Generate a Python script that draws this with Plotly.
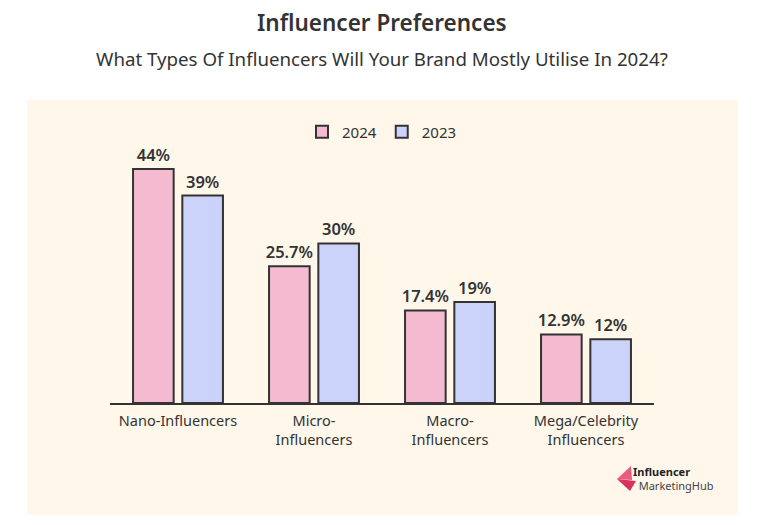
import plotly.graph_objects as go

categories = ["Nano-Influencers", "Micro-<br>Influencers", "Macro-<br>Influencers", "Mega/Celebrity<br>Influencers"]
values_2024 = [44, 25.7, 17.4, 12.9]
values_2023 = [39, 30, 19, 12]
labels_2024 = ["44%", "25.7%", "17.4%", "12.9%"]
labels_2023 = ["39%", "30%", "19%", "12%"]

FONT = "Noto Sans"
DARK = "#333333"


def px(x):
    return (x - 110) / 544


def py(y):
    return -(y - 403) / 253


fig = go.Figure()
fig.add_trace(go.Bar(
    name="2024", x=categories, y=values_2024, text=labels_2024,
    textposition="outside", cliponaxis=False, constraintext="none",
    marker=dict(color="#F4BBD0", line=dict(color=DARK, width=2)),
    textfont=dict(family=FONT, size=16.5, color=DARK, weight=600),
))
fig.add_trace(go.Bar(
    name="2023", x=categories, y=values_2023, text=labels_2023,
    textposition="outside", cliponaxis=False, constraintext="none",
    marker=dict(color="#CBD3FA", line=dict(color=DARK, width=2)),
    textfont=dict(family=FONT, size=16.5, color=DARK, weight=600),
))

# cream panel
fig.add_shape(type="rect", xref="paper", yref="paper",
              x0=px(27), x1=px(738), y0=py(515), y1=py(100),
              fillcolor="#FEF7EA", line=dict(width=0), layer="below")

# logo mark
fig.add_shape(type="path", xref="paper", yref="paper",
              path=f"M {px(617)},{py(479)} L {px(631)},{py(466)} L {px(632)},{py(480)} Z",
              fillcolor="#EC5A80", line=dict(width=0))
fig.add_shape(type="path", xref="paper", yref="paper",
              path=f"M {px(617)},{py(479)} L {px(636)},{py(481)} L {px(630)},{py(491)} Z",
              fillcolor="#D6345F", line=dict(width=0))

fig.add_annotation(text="<b>Influencer</b><br><span style='color:#444444'>&nbsp;&nbsp;MarketingHub</span>",
                   xref="paper", yref="paper", align="left",
                   x=px(632), y=py(478), xanchor="left", yanchor="middle",
                   showarrow=False, borderpad=0,
                   font=dict(family=FONT, size=11, color="#222222"))

# titles
fig.add_annotation(text="Influencer Preferences", xref="paper", yref="paper",
                   x=0.5, y=py(22), xanchor="center", yanchor="middle",
                   showarrow=False, font=dict(family=FONT, size=22.5, color=DARK, weight=600))
fig.add_annotation(text="What Types Of Influencers Will Your Brand Mostly Utilise In 2024?", xref="paper", yref="paper",
                   x=0.5, y=py(58), xanchor="center", yanchor="middle",
                   showarrow=False, font=dict(family=FONT, size=18.7, color=DARK))

fig.update_layout(
    width=767, height=525,
    margin=dict(l=102, r=121, t=142, b=130),
    paper_bgcolor="white", plot_bgcolor="rgba(0,0,0,0)",
    barmode="group", bargap=0.275, bargroupgap=0.176,
    showlegend=True,
    legend=dict(orientation="h", x=0.5, xanchor="center", y=py(132), yanchor="middle",
                font=dict(family=FONT, size=15, color=DARK), bgcolor="rgba(0,0,0,0)"),
    font=dict(family=FONT, color=DARK),
)
fig.update_xaxes(showline=True, linecolor=DARK, linewidth=2, showgrid=False,
                 ticks="", ticklabelstandoff=4,
                 tickfont=dict(family=FONT, size=14.5, color=DARK))
fig.update_yaxes(range=[0, 47.56], visible=False, showgrid=False)

fig.write_html("out.html")
